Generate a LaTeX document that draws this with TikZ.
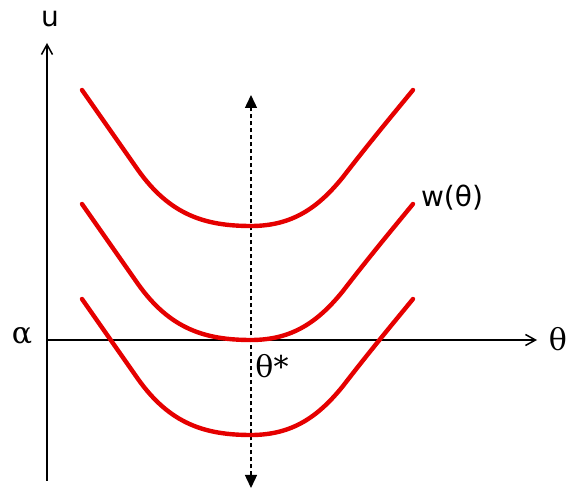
\documentclass[tikz,border=0pt]{standalone}
\usepackage{fontspec}
\setmainfont{DejaVu Sans}
\newfontfamily\grk{DejaVu Serif}
\usetikzlibrary{arrows.meta}
\begin{document}
\begin{tikzpicture}[x=1pt,y=-1pt,
  axis/.style={line width=1.5pt,-{Straight Barb[length=10pt,width=11pt,line width=1.5pt]}},
  dashax/.style={line width=1.4pt,dash pattern=on 4pt off 3pt,{Triangle[length=13pt,width=12pt]}-{Triangle[length=13pt,width=12pt]}},
  curve/.style={red!90!black,line width=4.4pt,line cap=round},
  lbl/.style={inner sep=0pt,font=\fontsize{28}{32}\selectfont},
  glbl/.style={inner sep=0pt,font=\grk\fontsize{30}{34}\selectfont}]
\useasboundingbox (0,0) rectangle (566,489);
\coordinate (o) at (47,340);
\coordinate (ytop) at (47,43);
\coordinate (ybot) at (47,481);
\coordinate (xend) at (537,340);
\coordinate (dtop) at (251,95);
\coordinate (dbot) at (251,488);
\draw[line width=1.5pt] (ybot) -- (o);
\draw[axis] (o) -- (ytop);
\draw[axis] (o) -- (xend);
\draw[dashax] (dbot) -- (dtop);
\foreach \dy in {0,114,209}{
  \draw[curve] (82,90+\dy) -- (138,170+\dy)
    .. controls (170,215+\dy) and (205,226+\dy) .. (251,226+\dy)
    .. controls (292,226+\dy) and (318,208+\dy) .. (343,177+\dy)
    .. controls (370,142+\dy) and (390,118+\dy) .. (413,90+\dy);
}
\node[lbl] (u) at (50,19) {u};
\node[glbl] (alpha) at (22,336) {α};
\node[glbl] (theta) at (558,339) {θ};
\node[glbl] (thetastar) at (272,366) {θ*};
\node[lbl] (w) at (452,198) {w(θ)};
\end{tikzpicture}
\end{document}
